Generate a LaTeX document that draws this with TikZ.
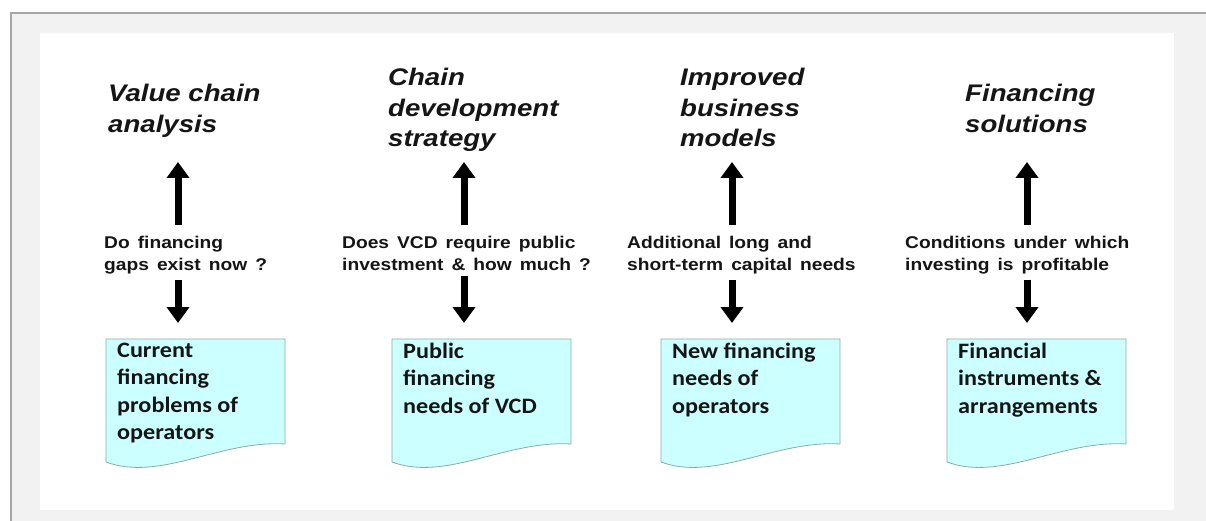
\documentclass[tikz,border=0pt]{standalone}
\usepackage{fontspec}
\setmainfont{Liberation Sans}
\newfontfamily\headfont[FakeStretch=1.15]{Liberation Sans}
\newfontfamily\askfont[FakeStretch=1.13, WordSpace=1.5]{Liberation Sans}
\newfontfamily\notefont[FakeStretch=1.1]{Carlito}
\usepackage{tikz}
\usetikzlibrary{arrows.meta, calc}
\definecolor{pagegray}{HTML}{F2F2F2}
\definecolor{framegray}{HTML}{A6A6A6}
\definecolor{noteblue}{HTML}{CCFFFF}
\definecolor{noteedge}{HTML}{8AAE9C}
\definecolor{inkblack}{HTML}{151515}

\begin{document}
\begin{tikzpicture}[x=1pt, y=-1pt,
    heading/.style={anchor=north west, align=left, inner sep=0pt, text=inkblack,
        font=\headfont\bfseries\itshape\fontsize{24}{30.5}\selectfont},
    question/.style={anchor=north west, align=left, inner sep=0pt, text=inkblack,
        font=\askfont\bfseries\fontsize{17}{22}\selectfont},
    notetext/.style={anchor=north west, align=left, inner sep=0pt, text=inkblack,
        font=\notefont\bfseries\fontsize{22}{27.3}\selectfont},
    note/.style={fill=noteblue, draw=noteedge, line width=0.8pt},
    bigarrow/.style={line width=7pt, -{Triangle[length=16pt, width=22pt]}}]
    % ── page ──────────────────────────────────────────────────────────
    \useasboundingbox (0,0) rectangle (1206,521);
    \fill[pagegray] (11,13) rectangle (1206,521);
    \draw[framegray, line width=2pt] (11,521) -- (11,13) -- (1206,13);
    \fill[white] (40,33) rectangle (1174,510);

    % ── (1) Value chain analysis ──────────────────────────────────────
    \begin{scope}[shift={(178,0)}]
        \node[heading] (head1) at (-70, 84) {Value chain\\analysis};
        \node[question] (ask1) at (-74, 235.5) {Do financing\\gaps exist now ?};
        \coordinate (tip1) at (0, 162);
        \coordinate (note1) at (-72, 339);
        \draw[note] (note1) -- ++(179,0) -- ++(0,105)
            .. controls +(-65,-4) and +(54,20) .. ++(-179,18) -- cycle;
        \node[notetext] (text1) at ($(note1)+(11,4)$) {Current\\financing\\problems of\\operators};
        \draw[bigarrow, shorten <=10pt] (ask1.north -| tip1) -- (tip1);
        \draw[bigarrow, shorten <=6pt, shorten >=16pt] (ask1.south -| tip1) -- (note1 -| tip1);
    \end{scope}

    % ── (2) Chain development strategy ────────────────────────────────
    \begin{scope}[shift={(464,0)}]
        \node[heading] (head2) at (-76, 68) {Chain\\development\\strategy};
        \node[question] (ask2) at (-122, 235.5) {Does VCD require public\\investment \& how much ?};
        \coordinate (tip2) at (0, 162);
        \coordinate (note2) at (-72, 339);
        \draw[note] (note2) -- ++(179,0) -- ++(0,105)
            .. controls +(-65,-4) and +(54,20) .. ++(-179,18) -- cycle;
        \node[notetext] (text2) at ($(note2)+(11,4)$) {Public\\financing\\needs of VCD};
        \draw[bigarrow, shorten <=10pt] (ask2.north -| tip2) -- (tip2);
        \draw[bigarrow, shorten <=6pt, shorten >=16pt] (ask2.south -| tip2) -- (note2 -| tip2);
    \end{scope}

    % ── (3) Improved business models ──────────────────────────────────
    \begin{scope}[shift={(732,0)}]
        \node[heading] (head3) at (-52, 68) {Improved\\business\\models};
        \node[question] (ask3) at (-105, 235.5) {Additional long and\\short-term capital needs};
        \coordinate (tip3) at (0, 162);
        \coordinate (note3) at (-71, 339);
        \draw[note] (note3) -- ++(179,0) -- ++(0,105)
            .. controls +(-65,-4) and +(54,20) .. ++(-179,18) -- cycle;
        \node[notetext] (text3) at ($(note3)+(11,4)$) {New financing\\needs of\\operators};
        \draw[bigarrow, shorten <=10pt] (ask3.north -| tip3) -- (tip3);
        \draw[bigarrow, shorten <=6pt, shorten >=16pt] (ask3.south -| tip3) -- (note3 -| tip3);
    \end{scope}

    % ── (4) Financing solutions ───────────────────────────────────────
    \begin{scope}[shift={(1027,0)}]
        \node[heading] (head4) at (-62, 84) {Financing\\solutions};
        \node[question] (ask4) at (-122, 235.5) {Conditions under which\\investing is profitable};
        \coordinate (tip4) at (0, 162);
        \coordinate (note4) at (-80, 339);
        \draw[note] (note4) -- ++(179,0) -- ++(0,105)
            .. controls +(-65,-4) and +(54,20) .. ++(-179,18) -- cycle;
        \node[notetext] (text4) at ($(note4)+(11,4)$) {Financial\\instruments \&\\arrangements};
        \draw[bigarrow, shorten <=10pt] (ask4.north -| tip4) -- (tip4);
        \draw[bigarrow, shorten <=6pt, shorten >=16pt] (ask4.south -| tip4) -- (note4 -| tip4);
    \end{scope}
\end{tikzpicture}
\end{document}
